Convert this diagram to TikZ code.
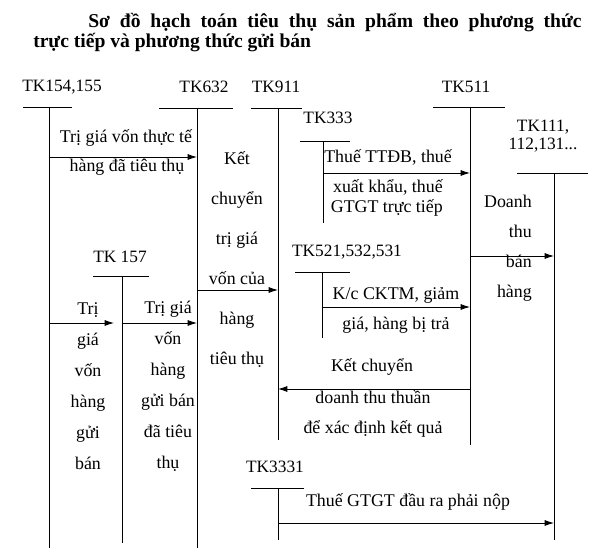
\documentclass[tikz,border=0pt]{standalone}
\usepackage{fontspec}
\setmainfont{Liberation Serif}
\usetikzlibrary{arrows.meta}
\tikzset{
    t-label/.style = {inner sep=0pt, align=center, font=\fontsize{13}{13.5}\selectfont},
    t-line/.style = {draw=black, line width=0.6pt},
    flow-arrow/.style = {draw=black, line width=0.6pt, -{Latex[length=7pt, width=4.5pt]}},
    flow-text/.style = {inner sep=0pt, align=center, font=\fontsize{13.4}{#1}\selectfont},
    flow-text/.default = 15,
    title-text/.style = {inner sep=0pt, anchor=west, font=\fontsize{14.7}{17}\selectfont\bfseries},
}

\begin{document}
\begin{tikzpicture}[x=0.75pt, y=-0.75pt]
\useasboundingbox (0,0) rectangle (613,559);
% title
\node[title-text] (title1) at (88,23) {\makebox[370pt][s]{Sơ đồ hạch toán tiêu thụ sản phẩm theo phương thức}};
\node[title-text] (title2) at (33,43) {trực tiếp và phương thức gửi bán};

% T accounts
\node[t-label] (tk154) at (62,87) {TK154,155};
\draw[t-line] (23,107) -- (72,107);
\draw[t-line] (49,107) coordinate (tk154-top) -- (49,548);

\node[t-label] (tk632) at (204,87) {TK632};
\draw[t-line] (159,108) -- (233,108);
\draw[t-line] (197,108) coordinate (tk632-top) -- (197,548);

\node[t-label] (tk911) at (276,87) {TK911};
\draw[t-line] (251,108) -- (302,108);
\draw[t-line] (278,108) coordinate (tk911-top) -- (278,440);

\node[t-label] (tk511) at (466,87) {TK511};
\draw[t-line] (433,107) -- (505,107);
\draw[t-line] (470,107) coordinate (tk511-top) -- (470,445);

\node[t-label] (tk333) at (328,118) {TK333};
\draw[t-line] (300,141) -- (350,141);
\draw[t-line] (323,141) coordinate (tk333-top) -- (323,223);

\node[t-label] (tk111) at (543,136) {TK111,\\112,131...};
\draw[t-line] (517,173) -- (588,173);
\draw[t-line] (554,173) coordinate (tk111-top) -- (554,540);

\node[t-label] (tk157) at (120,257) {TK 157};
\draw[t-line] (93,276) -- (149,276);
\draw[t-line] (122,276) coordinate (tk157-top) -- (122,543);

\node[t-label] (tk521) at (347,252) {TK521,532,531};
\draw[t-line] (295,272) -- (350,272);
\draw[t-line] (322,272) coordinate (tk521-top) -- (322,338);

\node[t-label] (tk3331) at (275,467) {TK3331};
\draw[t-line] (251,488) -- (304,488);
\draw[t-line] (278,488) coordinate (tk3331-top) -- (278,540);

% entries
\draw[flow-arrow] (tk154-top |- 0,157) -- (tk632-top |- 0,157);
\node[flow-text] (cost-a) at (126,138) {Trị giá vốn thực tế};
\node[flow-text] (cost-b) at (127,167) {hàng đã tiêu thụ};

\draw[flow-arrow] (tk632-top |- 0,290) -- (tk911-top |- 0,290);
\node[flow-text=30] (close-cost) at (237,260) {Kết\\chuyển\\trị giá\\vốn của\\hàng\\tiêu thụ};

\draw[flow-arrow] (tk333-top |- 0,173) -- (tk511-top |- 0,173);
\node[flow-text, anchor=west] (tax-a) at (324,157) {Thuế TTĐB, thuế};
\node[flow-text=14.5, align=right, anchor=east] (tax-b) at (443,198) {xuất khẩu, thuế\\GTGT trực tiếp};

\draw[flow-arrow] (tk511-top |- 0,256) -- (tk111-top |- 0,256);
\node[flow-text=22.5, align=right, anchor=east] (revenue) at (532,248) {Doanh\\thu\\bán\\hàng};

\draw[flow-arrow] (tk521-top |- 0,307) -- (tk511-top |- 0,307);
\node[flow-text] (deduct-a) at (396,295) {K/c CKTM, giảm};
\node[flow-text] (deduct-b) at (396,325) {giá, hàng bị trả};

\draw[flow-arrow] (tk511-top |- 0,389) -- (tk911-top |- 0,389);
\node[flow-text] (close-rev-a) at (372,367) {Kết chuyển};
\node[flow-text=23] (close-rev-b) at (373,414) {doanh thu thuần\\để xác định kết quả};

\draw[flow-arrow, shorten >=6pt] (tk154-top |- 0,323) -- (tk157-top |- 0,323);
\node[flow-text=23.25] (consign-a) at (88,386) {Trị\\giá\\vốn\\hàng\\gửi\\bán};

\draw[flow-arrow] (tk157-top |- 0,323) -- (tk632-top |- 0,323);
\node[flow-text=23.25] (consign-b) at (168,386) {Trị giá\\vốn\\hàng\\gửi bán\\đã tiêu\\thụ};

\draw[flow-arrow] (tk3331-top |- 0,523) -- (tk111-top |- 0,523);
\node[flow-text] (vat-out) at (408,502) {Thuế GTGT đầu ra phải nộp};
\end{tikzpicture}
\end{document}
